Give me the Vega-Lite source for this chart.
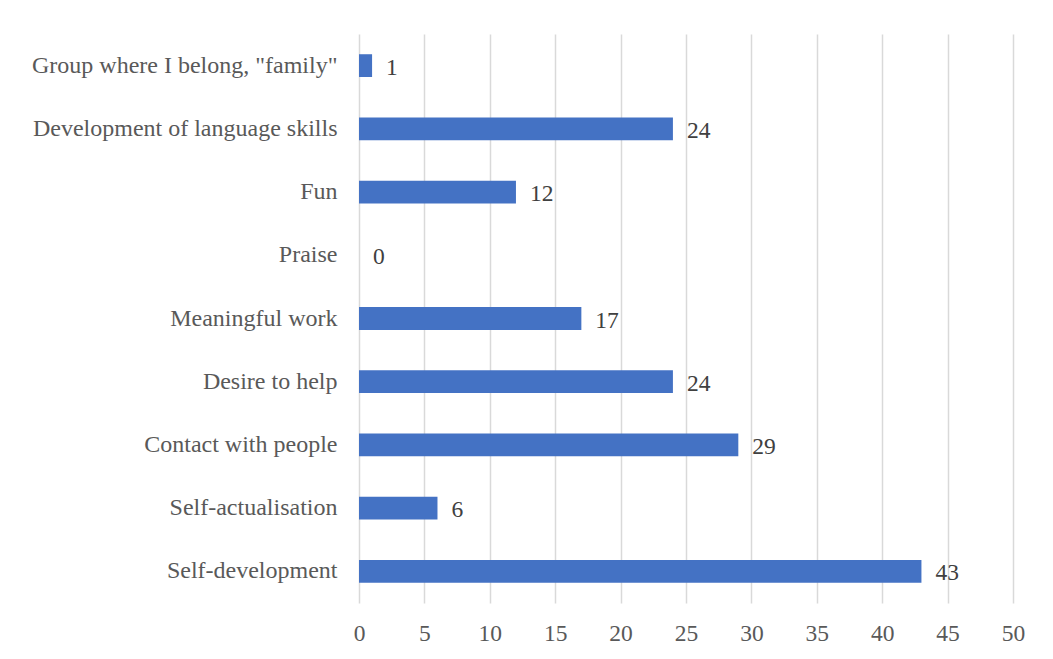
{
  "$schema": "https://vega.github.io/schema/vega-lite/v6.json",
  "width": 654,
  "height": 569,
  "autosize": {"type": "none"},
  "padding": {"left": 359, "top": 34, "right": 40, "bottom": 56},
  "background": "#ffffff",
  "config": {"view": {"stroke": null}, "font": "Liberation Serif"},
  "data": {"values": [
    {"reason": "Group where I belong, \"family\"", "count": 1},
    {"reason": "Development of language skills", "count": 24},
    {"reason": "Fun", "count": 12},
    {"reason": "Praise", "count": 0},
    {"reason": "Meaningful work", "count": 17},
    {"reason": "Desire to help", "count": 24},
    {"reason": "Contact with people", "count": 29},
    {"reason": "Self-actualisation", "count": 6},
    {"reason": "Self-development", "count": 43}
  ]},
  "encoding": {
    "y": {
      "field": "reason", "type": "nominal", "sort": null,
      "scale": {"paddingInner": 0.64, "paddingOuter": 0.32},
      "axis": {"title": null, "domain": false, "ticks": false, "labelPadding": 22,
               "labelFont": "Liberation Serif", "labelFontSize": 24, "labelColor": "#595959", "labelLimit": 500}
    },
    "x": {
      "field": "count", "type": "quantitative",
      "scale": {"domain": [0, 50], "nice": false},
      "axis": {"title": null, "values": [0,5,10,15,20,25,30,35,40,45,50], "domain": false, "ticks": false,
               "grid": true, "gridColor": "#D9D9D9", "gridWidth": 1.5, "labelPadding": 18,
               "labelFont": "Liberation Serif", "labelFontSize": 23.5, "labelColor": "#595959", "labelFlush": false}
    }
  },
  "layer": [
    {"mark": {"type": "bar", "color": "#4472C4"}},
    {"mark": {"type": "text", "align": "left", "baseline": "middle", "dx": 14, "dy": 2, "font": "Liberation Serif", "fontSize": 23.5, "color": "#404040"},
     "encoding": {"text": {"field": "count", "type": "quantitative"}}}
  ]
}
